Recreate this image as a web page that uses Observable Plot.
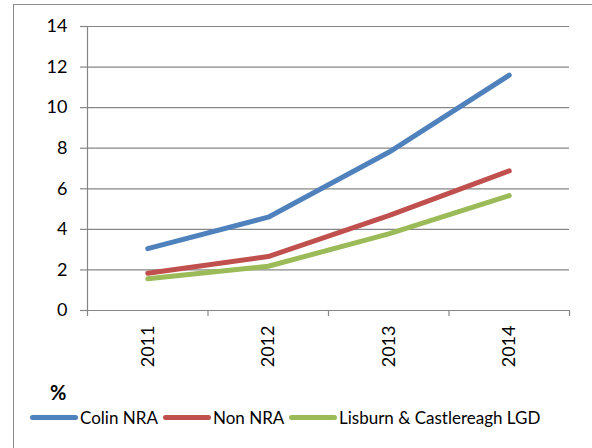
<!DOCTYPE html>
<html>
<head>
<meta charset="utf-8">
<script src="https://cdn.jsdelivr.net/npm/d3@7"></script>
<script src="https://cdn.jsdelivr.net/npm/@observablehq/plot@0.6"></script>
<style>
  html, body { margin: 0; padding: 0; background: #fff; }
  #wrap { position: relative; width: 592px; height: 448px; overflow: hidden; font-family: Lato, "Open Sans", sans-serif; }
  #frame { position: absolute; left: 13px; top: 4px; width: 700px; height: 600px; border-left: 1.5px solid #8a8a8a; border-top: 1.5px solid #8a8a8a; box-sizing: border-box; }
  #chart { position: absolute; left: 0; top: 0; }
  #pct { position: absolute; left: 50px; top: 380px; font-weight: bold; font-size: 20px; }
  #legend { position: absolute; left: 0; top: 406px; width: 592px; height: 22px; font-size: 17px; white-space: nowrap; }
  .item { position: absolute; top: 0; display: flex; align-items: center; height: 22px; }
  .swatch { width: 48px; height: 5px; border-radius: 3px; margin-right: 2px; }
</style>
</head>
<body>
<div id="wrap">
  <div id="frame"></div>
  <div id="chart"></div>
  <div id="pct">%</div>
  <div id="legend"></div>
</div>
<script>
const years = [2011, 2012, 2013, 2014];
const colinNRA = [3.05, 4.6, 7.8, 11.6];
const nonNRA = [1.84, 2.66, 4.68, 6.88];
const lisburnLGD = [1.56, 2.18, 3.78, 5.66];
const seriesNames = ["Colin NRA", "Non NRA", "Lisburn & Castlereagh LGD"];
const seriesColors = ["#4F81BD", "#C0504D", "#9BBB59"];
const yTicks = [0, 2, 4, 6, 8, 10, 12, 14];

const seriesValues = [colinNRA, nonNRA, lisburnLGD];
const rows = [];
seriesNames.forEach((name, s) => {
  years.forEach((yr, i) => rows.push({series: name, year: yr, value: seriesValues[s][i]}));
});
const xMin = years[0] - 0.5;
const xMax = years[years.length - 1] + 0.5;
const boundaries = d3.range(xMin, xMax + 0.01, 1);
const grey = "#868686";
const legendLefts = [30, 163, 289];

const chart = Plot.plot({
  width: 592,
  height: 380,
  marginLeft: 87,
  marginRight: 23,
  marginTop: 26,
  marginBottom: 70,
  style: {fontFamily: "Lato, 'Open Sans', sans-serif", fontSize: "18px", color: "#000", background: "transparent", overflow: "visible"},
  x: {type: "linear", domain: [xMin, xMax]},
  y: {domain: [0, 14]},
  color: {domain: seriesNames, range: seriesColors},
  marks: [
    Plot.ruleY(yTicks, {y: d => d, stroke: grey, strokeWidth: 1.2}),
    Plot.ruleY(yTicks, {y: d => d, x1: xMin, x2: xMin, insetLeft: -7, stroke: grey, strokeWidth: 1.2}),
    Plot.ruleX([xMin], {x: d => d, y1: 0, y2: 14, stroke: grey, strokeWidth: 1.2}),
    Plot.ruleX(boundaries, {x: d => d, y1: 0, y2: 0, insetBottom: -6, stroke: grey, strokeWidth: 1.2}),
    Plot.line(rows, {x: "year", y: "value", z: "series", stroke: "series", strokeWidth: 5, strokeLinecap: "round", strokeLinejoin: "round"}),
    Plot.axisY({ticks: yTicks, tickSize: 0, tickPadding: 20, fontSize: 18, label: null}),
    Plot.axisX({ticks: years, tickSize: 0, tickPadding: 15, tickRotate: -90, tickFormat: d => String(d), fontSize: 18, label: null})
  ]
});
document.getElementById("chart").appendChild(chart);

const legend = document.getElementById("legend");
seriesNames.forEach((name, i) => {
  const item = document.createElement("div");
  item.className = "item";
  item.style.left = legendLefts[i] + "px";
  const sw = document.createElement("div");
  sw.className = "swatch";
  sw.style.background = seriesColors[i];
  const label = document.createElement("span");
  label.textContent = name;
  item.appendChild(sw);
  item.appendChild(label);
  legend.appendChild(item);
});
</script>
</body>
</html>
